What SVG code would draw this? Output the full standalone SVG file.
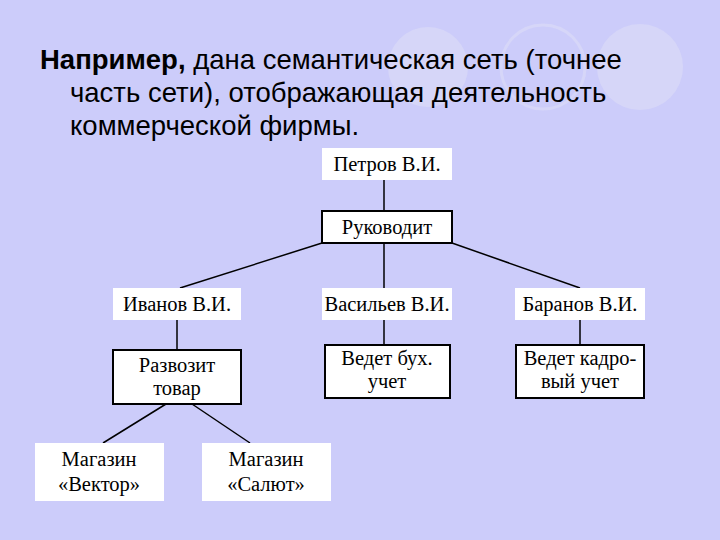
<svg xmlns="http://www.w3.org/2000/svg" width="720" height="540" viewBox="0 0 720 540">
<style>
.t{font-family:"Liberation Sans",Arial,sans-serif;font-size:27.5px;fill:#000}
.n{font-family:"Liberation Serif","Times New Roman",serif;font-size:20.5px;fill:#000;text-anchor:middle}
.o{fill:#fff}
.r{fill:#fff;stroke:#000;stroke-width:2}
.c{stroke:#000;stroke-width:1.5;fill:none}
</style>
<rect width="720" height="540" fill="#ccccfa"/>
<circle cx="428" cy="67" r="40" fill="#d6d6f8"/>
<circle cx="543" cy="67" r="42" fill="none" stroke="#d6d6f8" stroke-width="3"/>
<circle cx="640" cy="67" r="43" fill="#d6d6f8"/>
<text class="t" x="40" y="69"><tspan font-weight="bold">Например,</tspan> дана семантическая сеть (точнее</text>
<text class="t" x="70" y="102">часть сети), отображающая деятельность</text>
<text class="t" x="70" y="135">коммерческой фирмы.</text>
<g id="connectors">
<line class="c" x1="384" y1="180" x2="384" y2="211"/>
<line class="c" x1="322" y1="243" x2="180" y2="288"/>
<line class="c" x1="384" y1="243" x2="384" y2="288"/>
<line class="c" x1="452" y1="243" x2="580" y2="288"/>
<line class="c" x1="177" y1="320" x2="177" y2="350"/>
<line class="c" x1="384" y1="320" x2="384" y2="345"/>
<line class="c" x1="580" y1="320" x2="580" y2="345"/>
<line class="c" x1="166" y1="404" x2="103" y2="443"/>
<line class="c" x1="192" y1="404" x2="250" y2="443"/>
</g>
<g id="petrov"><rect class="o" x="322" y="148" width="130" height="32"/><text class="n" x="387" y="171">Петров В.И.</text></g>
<g id="rukovodit"><rect class="r" x="322" y="211" width="130" height="32"/><text class="n" x="387" y="234">Руководит</text></g>
<g id="ivanov"><rect class="o" x="113" y="288" width="128" height="32"/><text class="n" x="177" y="311">Иванов В.И.</text></g>
<g id="vasiliev"><rect class="o" x="322" y="288" width="130" height="32"/><text class="n" x="387" y="311">Васильев В.И.</text></g>
<g id="baranov"><rect class="o" x="515" y="288" width="130" height="32"/><text class="n" x="580" y="311">Баранов В.И.</text></g>
<g id="razvozit"><rect class="r" x="113" y="350" width="128" height="54"/><text class="n" x="177" y="372">Развозит</text><text class="n" x="177" y="395">товар</text></g>
<g id="buh"><rect class="r" x="325" y="345" width="125" height="53"/><text class="n" x="387" y="365">Ведет бух.</text><text class="n" x="387" y="388">учет</text></g>
<g id="kadr"><rect class="r" x="516" y="345" width="128" height="53"/><text class="n" x="580" y="365">Ведет кадро-</text><text class="n" x="580" y="388">вый учет</text></g>
<g id="vektor"><rect class="o" x="35" y="443" width="129" height="58"/><text class="n" x="99" y="466">Магазин</text><text class="n" x="99" y="491">«Вектор»</text></g>
<g id="salut"><rect class="o" x="202" y="443" width="129" height="58"/><text class="n" x="266" y="466">Магазин</text><text class="n" x="266" y="491">«Салют»</text></g>
</svg>
